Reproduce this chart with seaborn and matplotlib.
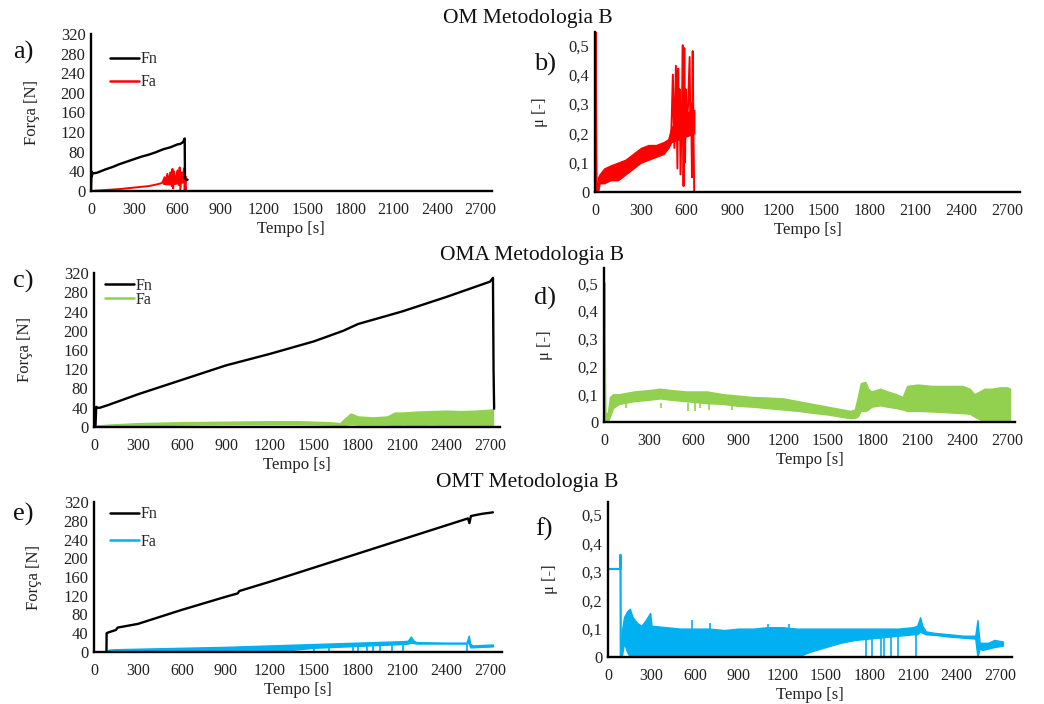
import numpy as np
import pandas as pd
import matplotlib
matplotlib.use("Agg")
import matplotlib.pyplot as plt
from matplotlib.lines import Line2D
from matplotlib.ticker import FuncFormatter
import seaborn as sns

# ---------------- data ----------------
time_ticks = [0, 300, 600, 900, 1200, 1500, 1800, 2100, 2400, 2700]
force_ticks = [0, 40, 80, 120, 160, 200, 240, 280, 320]
mu_ticks = [0, 0.1, 0.2, 0.3, 0.4, 0.5]

# OM (a, b)
om_fn_t = [0, 3, 6, 10, 40, 100, 150, 200, 250, 300, 350, 400, 450, 500, 550, 600, 620, 640, 645, 650, 652, 660, 670]
om_fn_v = [0, 40, 30, 36, 37, 44, 49, 55, 60, 65, 70, 74, 79, 85, 89, 95, 96, 100, 104, 107, 25, 23, 23]
om_fa_t = [0, 10, 50, 100, 200, 300, 400, 450, 490, 500, 510, 520, 530, 540, 550, 560, 565, 570, 575, 580, 590, 600, 610, 615, 620, 630, 640, 645, 650, 655, 660]
om_fa_v = [0, 0, 1, 2, 4, 7, 10, 13, 16, 20, 28, 22, 35, 18, 38, 10, 45, 5, 40, 15, 30, 42, 12, 48, 3, 38, 25, 46, 0, 30, 0]
om_fa_band_t = [500, 520, 550, 580, 610, 640, 655]
om_fa_band_lo = [15, 14, 14, 15, 16, 18, 18]
om_fa_band_hi = [22, 26, 28, 30, 30, 32, 30]
om_mu_start_t = [0, 2, 4, 6, 10, 15, 20]
om_mu_start_v = [0.33, 0.33, 0.60, 0.33, 0.05, 0.0, 0.03]
om_mu_band_t = [20, 30, 60, 100, 150, 200, 250, 300, 350, 400, 450, 480, 500, 550, 600, 650]
om_mu_band_lo = [0.00, 0.03, 0.03, 0.04, 0.04, 0.06, 0.08, 0.10, 0.11, 0.12, 0.13, 0.15, 0.17, 0.18, 0.19, 0.20]
om_mu_band_hi = [0.05, 0.06, 0.08, 0.09, 0.10, 0.11, 0.13, 0.15, 0.16, 0.16, 0.17, 0.18, 0.22, 0.25, 0.27, 0.28]
om_mu_osc_t = [500, 510, 520, 530, 540, 545, 550, 555, 560, 570, 575, 580, 585, 590, 595, 600, 610, 620, 625, 630, 635, 640, 645, 650, 652]
om_mu_osc_v = [0.20, 0.40, 0.15, 0.43, 0.08, 0.42, 0.20, 0.35, 0.06, 0.30, 0.50, 0.02, 0.49, 0.10, 0.35, 0.20, 0.30, 0.46, 0.20, 0.30, 0.05, 0.48, 0.20, 0.00, 0.00]

# OMA (c, d)
oma_fn_t = [0, 10, 15, 20, 40, 100, 300, 600, 900, 1200, 1500, 1700, 1750, 1800, 2100, 2400, 2700, 2720, 2724, 2728]
oma_fn_v = [0, 0, 42, 40, 40, 46, 68, 98, 128, 152, 178, 200, 207, 214, 240, 270, 302, 310, 120, 38]
oma_fa_t = [0, 20, 100, 300, 600, 900, 1200, 1400, 1600, 1680, 1700, 1750, 1800, 1900, 2000, 2050, 2100, 2200, 2300, 2400, 2500, 2600, 2700, 2720]
oma_fa_lo = [0, 0, 1, 4, 5, 6, 6, 6, 5, 4, 4, 6, 5, 5, 5, 4, 5, 4, 5, 4, 3, 2, 3, 0]
oma_fa_hi = [0, 3, 5, 8, 10, 11, 12, 12, 10, 8, 15, 28, 22, 20, 22, 30, 30, 32, 33, 34, 33, 34, 36, 38]
oma_mu_start_t = [0, 3, 5, 8, 12, 20, 25]
oma_mu_start_v = [0.33, 0.50, 0.33, 0.10, 0.0, 0.0, 0.03]
oma_mu_t = [25, 40, 60, 100, 200, 300, 375, 450, 550, 690, 800, 900, 1000, 1100, 1200, 1300, 1400, 1500, 1600, 1650, 1680, 1700, 1720, 1750, 1770, 1790, 1850, 1900, 1960, 2000, 2030, 2100, 2200, 2300, 2400, 2450, 2480, 2550, 2600, 2650, 2700, 2720]
oma_mu_hi = [0.03, 0.09, 0.10, 0.10, 0.11, 0.115, 0.12, 0.115, 0.11, 0.11, 0.10, 0.095, 0.09, 0.088, 0.085, 0.075, 0.065, 0.055, 0.045, 0.04, 0.045, 0.09, 0.14, 0.145, 0.12, 0.11, 0.12, 0.11, 0.10, 0.09, 0.13, 0.135, 0.13, 0.13, 0.13, 0.12, 0.10, 0.12, 0.12, 0.125, 0.125, 0.12]
oma_mu_lo = [0.0, 0.02, 0.05, 0.065, 0.075, 0.08, 0.085, 0.08, 0.075, 0.068, 0.065, 0.058, 0.055, 0.05, 0.045, 0.04, 0.033, 0.027, 0.018, 0.014, 0.015, 0.02, 0.04, 0.04, 0.045, 0.055, 0.06, 0.055, 0.05, 0.045, 0.04, 0.04, 0.038, 0.035, 0.032, 0.03, 0.02, 0.0, 0.0, 0.0, 0.0, 0.0]
oma_mu_dips_t = [150, 380, 560, 610, 640, 700, 860]
oma_mu_dips_v = [0.05, 0.05, 0.04, 0.04, 0.05, 0.045, 0.045]

# OMT (e, f)
omt_fn_t = [85, 86, 100, 150, 160, 300, 600, 900, 980, 990, 1200, 1500, 1800, 2100, 2400, 2550, 2560, 2570, 2600, 2650, 2700, 2720]
omt_fn_v = [0, 40, 42, 47, 52, 60, 90, 118, 125, 130, 150, 180, 210, 240, 270, 285, 275, 290, 292, 295, 297, 298]
omt_fa_t = [85, 100, 150, 300, 600, 900, 1200, 1300, 1500, 1800, 2100, 2140, 2160, 2180, 2200, 2400, 2540, 2555, 2565, 2580, 2650, 2720]
omt_fa_lo = [0, 0, 0, 0, 0, 0, 0, 3, 9, 13, 17, 18, 20, 19, 18, 18, 18, 20, 10, 10, 11, 12]
omt_fa_hi = [0, 5, 6, 7, 9, 11, 14, 15, 17, 20, 23, 24, 33, 24, 21, 20, 20, 35, 18, 14, 15, 16]
omt_fa_dips_t = [1500, 1600, 1766, 1800, 1860, 1900, 1950, 2030, 2106, 2543]
omt_fa_dips_v = [8, 8, 12, 12, 13, 13, 14, 15, 16, 18]
omt_mu_start_t = [0, 80, 84, 86, 88]
omt_mu_start_v = [0.31, 0.31, 0.31, 0.36, 0.0]
omt_mu_t = [88, 95, 110, 130, 150, 170, 200, 230, 260, 290, 300, 400, 500, 600, 700, 800, 900, 1000, 1100, 1200, 1300, 1400, 1500, 1600, 1700, 1800, 1900, 2000, 2100, 2130, 2150, 2165, 2190, 2250, 2350, 2450, 2530, 2545, 2560, 2580, 2620, 2660, 2720]
omt_mu_hi = [0.0, 0.09, 0.14, 0.16, 0.17, 0.14, 0.12, 0.11, 0.13, 0.155, 0.11, 0.105, 0.10, 0.10, 0.10, 0.095, 0.10, 0.10, 0.105, 0.105, 0.10, 0.10, 0.10, 0.10, 0.10, 0.10, 0.10, 0.10, 0.105, 0.11, 0.14, 0.11, 0.09, 0.085, 0.08, 0.075, 0.075, 0.13, 0.05, 0.05, 0.05, 0.06, 0.055]
omt_mu_lo = [0.0, 0.0, 0.05, 0.02, 0.0, 0.0, 0.0, 0.0, 0.0, 0.0, 0.0, 0.0, 0.0, 0.0, 0.0, 0.0, 0.0, 0.0, 0.0, 0.0, 0.0, 0.02, 0.035, 0.05, 0.06, 0.065, 0.07, 0.075, 0.08, 0.08, 0.09, 0.085, 0.08, 0.078, 0.072, 0.068, 0.065, 0.0, 0.03, 0.025, 0.03, 0.035, 0.04]
omt_mu_dips_t = [1780, 1820, 1880, 1900, 1950, 2000, 2120]
omt_mu_dips_v = [0.065, 0.065, 0.07, 0.07, 0.072, 0.075, 0.08]
omt_mu_peaks_t = [580, 700, 1100, 1250]
omt_mu_peaks_v = [0.13, 0.12, 0.115, 0.115]

BLACK = "#000000"
RED = "#FF0000"
GREEN = "#92D050"
BLUE = "#00B0F0"

# ---------------- style ----------------
sns.set_theme(style="white")
plt.rcParams['font.family'] = ['Liberation Serif', 'DejaVu Serif']

W, H = 1044, 704
fig = plt.figure(figsize=(W / 100, H / 100), dpi=100)
fig.patch.set_facecolor("white")


def axes_at(l, r, top, bottom):
    return fig.add_axes([l / W, 1 - bottom / H, (r - l) / W, (bottom - top) / H])


def mu_fmt(v, _):
    if abs(v) < 1e-9:
        return "0"
    return f"{v:.1f}".replace(".", ",")


def style(ax, xmax, ymax, yticks, is_mu, ylab_x):
    ax.set_xlim(0, xmax)
    ax.set_ylim(0, ymax)
    ax.set_facecolor("none")
    ax.grid(False)
    for s in ["top", "right"]:
        ax.spines[s].set_visible(False)
    for s in ["left", "bottom"]:
        ax.spines[s].set_color("black")
        ax.spines[s].set_linewidth(1.7)
        ax.spines[s].set_zorder(5)
    ax.set_xticks(time_ticks)
    ax.set_yticks(yticks)
    if is_mu:
        ax.yaxis.set_major_formatter(FuncFormatter(mu_fmt))
    ax.tick_params(axis="x", length=0, pad=8, labelsize=11.5, colors="#222222")
    ax.tick_params(axis="y", length=0, pad=4, labelsize=12, colors="#222222")
    ax.set_xlabel("Tempo [s]", fontsize=12, color="#222222")
    ax.set_ylabel("μ [-]" if is_mu else "Força [N]", fontsize=12, color="#222222")
    hpx = ax.get_position().height * H
    ax.xaxis.set_label_coords(0.5, -30 / hpx)
    ax.yaxis.set_label_coords(ylab_x, 0.5)


def line(ax, t, v, color, lw=1.5):
    df = pd.DataFrame({"t": t, "v": v})
    sns.lineplot(data=df, x="t", y="v", ax=ax, color=color, lw=lw,
                 estimator=None, sort=False, legend=False)


def band(ax, t, lo, hi, color):
    ax.fill_between(t, lo, hi, color=color, lw=1.0, edgecolor=color)


def legend(ax, fa_color, y_anchor, x_anchor, spacing, fs):
    handles = [Line2D([0], [0], color=BLACK, lw=1.8), Line2D([0], [0], color=fa_color, lw=1.8)]
    ax.legend(handles, ["Fn", "Fa"], loc="upper left", bbox_to_anchor=(x_anchor, y_anchor),
              frameon=False, handlelength=1.8, handletextpad=0.1, borderpad=0,
              borderaxespad=0, labelspacing=spacing, fontsize=fs)


# ---------------- a) ----------------
ax_a = axes_at(91, 491.7, 34, 191)
band(ax_a, om_fa_band_t, om_fa_band_lo, om_fa_band_hi, RED)
line(ax_a, om_fa_t, om_fa_v, RED, 1.4)
line(ax_a, om_fn_t, om_fn_v, BLACK, 1.7)
style(ax_a, 2780, 320, force_ticks, False, -0.128)
legend(ax_a, RED, 0.89, 0.047, 0.45, 11.5)

# ---------------- b) ----------------
ax_b = axes_at(595, 1020, 32, 192)
band(ax_b, om_mu_band_t, om_mu_band_lo, om_mu_band_hi, RED)
line(ax_b, om_mu_osc_t, om_mu_osc_v, RED, 1.4)
line(ax_b, om_mu_start_t, om_mu_start_v, RED, 1.6)
style(ax_b, 2784, 0.545, mu_ticks, True, -0.11)

# ---------------- c) ----------------
ax_c = axes_at(94, 500, 273, 427)
band(ax_c, oma_fa_t, oma_fa_lo, oma_fa_hi, GREEN)
line(ax_c, oma_fn_t, oma_fn_v, BLACK, 1.7)
style(ax_c, 2768, 320, force_ticks, False, -0.15)
legend(ax_c, GREEN, 0.97, 0.027, -0.1, 11.5)

# ---------------- d) ----------------
ax_d = axes_at(604, 1015, 268, 422)
band(ax_d, oma_mu_t, oma_mu_lo, oma_mu_hi, GREEN)
ax_d.vlines(oma_mu_dips_t, oma_mu_dips_v, 0.07, color=GREEN, lw=1.2)
line(ax_d, oma_mu_start_t, oma_mu_start_v, GREEN, 1.6)
style(ax_d, 2753, 0.555, mu_ticks, True, -0.124)

# ---------------- e) ----------------
ax_e = axes_at(94, 502, 502, 652)
band(ax_e, omt_fa_t, omt_fa_lo, omt_fa_hi, BLUE)
ax_e.vlines(omt_fa_dips_t, 0, omt_fa_dips_v, color=BLUE, lw=1.2)
line(ax_e, omt_fn_t, omt_fn_v, BLACK, 1.7)
style(ax_e, 2782, 320, force_ticks, False, -0.127)
legend(ax_e, BLUE, 0.97, 0.04, 0.7, 11.5)

# ---------------- f) ----------------
ax_f = axes_at(608, 1012, 502, 657)
band(ax_f, omt_mu_t, omt_mu_lo, omt_mu_hi, BLUE)
ax_f.vlines(omt_mu_dips_t, 0, omt_mu_dips_v, color=BLUE, lw=1.2)
ax_f.vlines(omt_mu_peaks_t, 0.05, omt_mu_peaks_v, color=BLUE, lw=1.2)
line(ax_f, omt_mu_start_t, omt_mu_start_v, BLUE, 1.6)
style(ax_f, 2783, 0.546, mu_ticks, True, -0.124)

# ---------------- titles and panel letters ----------------
for txt, x, y in [("OM Metodologia B", 528, 19), ("OMA Metodologia B", 532, 255),
                  ("OMT Metodologia B", 527, 483)]:
    fig.text(x / W, 1 - y / H, txt, ha="center", va="center", fontsize=15.5, color="#111111")

for txt, x, y in [("a)", 23, 52), ("b)", 545, 64), ("c)", 23, 281),
                  ("d)", 545, 298), ("e)", 23, 514), ("f)", 544, 529)]:
    fig.text(x / W, 1 - y / H, txt, ha="center", va="center", fontsize=19, color="#111111")

fig.savefig("out.png", dpi=100)
